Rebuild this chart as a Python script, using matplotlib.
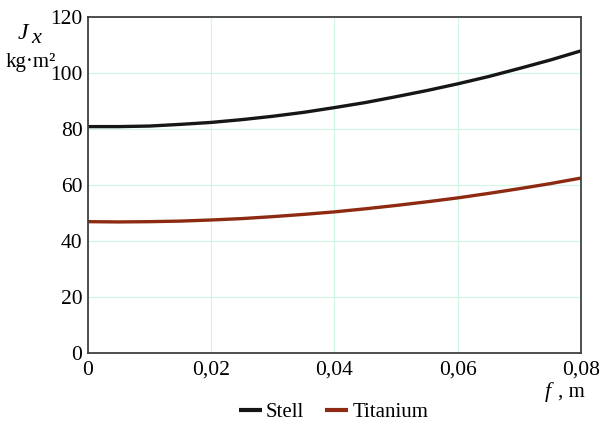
import matplotlib
matplotlib.use("Agg")
import matplotlib.pyplot as plt
from matplotlib.ticker import FuncFormatter

plt.rcParams['font.family'] = ['Liberation Serif', 'DejaVu Serif']

f = [0.000, 0.005, 0.010, 0.015, 0.020, 0.025, 0.030, 0.035, 0.040,
     0.045, 0.050, 0.055, 0.060, 0.065, 0.070, 0.075, 0.080]
stell = [80.8, 80.8, 81.0, 81.6, 82.3, 83.3, 84.5, 85.9, 87.6,
         89.4, 91.5, 93.7, 96.1, 98.7, 101.6, 104.6, 107.9]
titanium = [46.8, 46.7, 46.8, 47.0, 47.4, 47.9, 48.6, 49.4, 50.3,
            51.4, 52.6, 53.9, 55.3, 56.9, 58.6, 60.4, 62.4]
xticks = [0, 0.02, 0.04, 0.06, 0.08]
yticks = [0, 20, 40, 60, 80, 100, 120]

fig = plt.figure(figsize=(6.01, 4.21), dpi=100)
ax = fig.add_axes([0.1464, 0.1627, 0.8203, 0.7969])

ax.plot(f, stell, color='#161616', lw=2.4, label='Stell', solid_capstyle='butt')
ax.plot(f, titanium, color='#8e2a12', lw=2.4, label='Titanium', solid_capstyle='butt')

ax.set_xlim(0, 0.08)
ax.set_ylim(0, 120)
ax.set_xticks(xticks)
ax.set_yticks(yticks)
ax.xaxis.set_major_formatter(FuncFormatter(lambda v, p: '0' if v == 0 else f"{v:.2f}".replace('.', ',')))
ax.yaxis.set_major_formatter(FuncFormatter(lambda v, p: f"{int(round(v))}"))
ax.tick_params(length=0, labelsize=15.5, pad=4, colors='black')
ax.tick_params(axis='x', pad=6)
ax.grid(True, color='#d3f6e2', lw=0.9)
ax.set_axisbelow(True)
for s in ax.spines.values():
    s.set_color('#404040')
    s.set_linewidth(1.3)

fig.text(0.030, 0.907, 'J', fontsize=17, style='italic', ha='left', va='baseline')
fig.text(0.052, 0.898, 'x', fontsize=16, style='italic', ha='left', va='baseline')
fig.text(0.010, 0.841, 'kg·m²', fontsize=15, ha='left', va='baseline')
fig.text(0.906, 0.057, 'f', fontsize=16, style='italic', ha='left', va='baseline')
fig.text(0.928, 0.057, ', m', fontsize=15, ha='left', va='baseline')

leg = fig.legend(loc='lower center', bbox_to_anchor=(0.555, -0.047), ncol=2, frameon=False,
                 fontsize=15, handlelength=1.1, handletextpad=0.2, columnspacing=1.0)
for l in leg.get_lines():
    l.set_linewidth(3)

fig.savefig('out.png', dpi=100)
